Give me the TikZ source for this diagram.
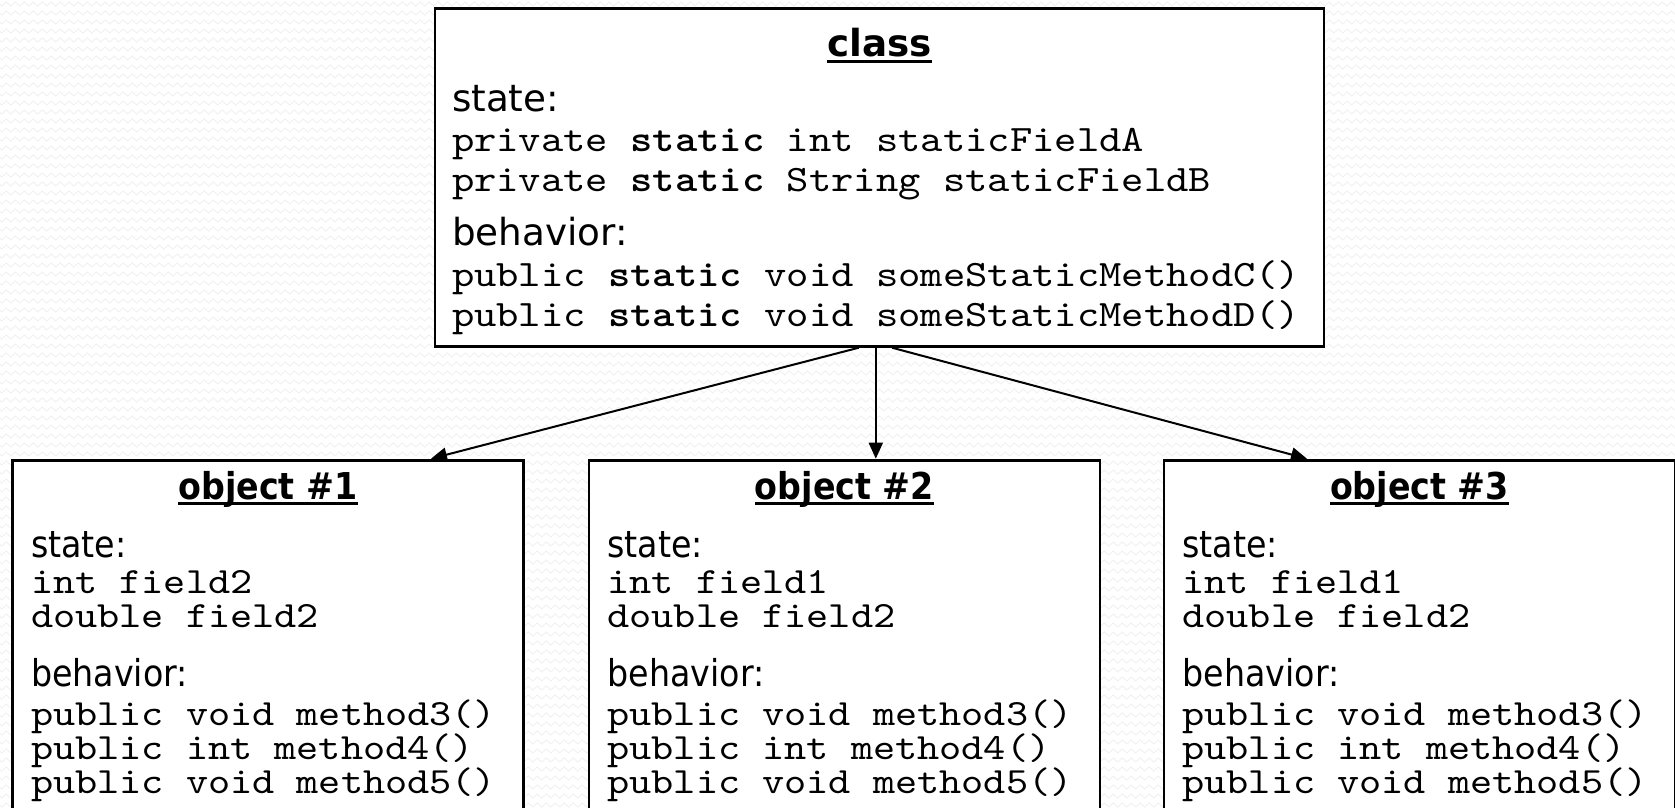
\documentclass[tikz,border=0pt]{standalone}
\usepackage{fontspec}
\setmainfont{DejaVu Sans}
\newfontfamily\condsans[FakeStretch=0.9]{DejaVu Sans}
\newfontfamily\cour[FakeStretch=1.14, BoldFont=lmmonolt10-bold.otf]{lmmono10-regular.otf}
\usetikzlibrary{arrows.meta,decorations.pathmorphing}
\tikzset{
  box/.style={draw=black, line width=2.5pt, fill=white, rectangle, outer sep=0pt, inner sep=0pt},
  txt/.style={anchor=base west, inner sep=0pt, outer sep=0pt},
  topsans/.style={txt, font=\fontsize{37.3}{40}\selectfont},
  topmono/.style={txt, font=\fontsize{37.3}{40}\selectfont\cour},
  botsans/.style={txt, font=\fontsize{37}{40}\selectfont\condsans},
  botmono/.style={txt, font=\fontsize{37}{40}\selectfont\cour},
  tophead/.style={anchor=base, inner sep=0pt, outer sep=0pt, font=\fontsize{37.3}{40}\selectfont\bfseries},
  bothead/.style={anchor=base, inner sep=0pt, outer sep=0pt, font=\fontsize{37}{40}\selectfont\condsans\bfseries},
  ul/.style={line width=3pt},
  arr/.style={line width=2pt, -{Triangle[length=16pt,width=14pt]}},
  bgpat/.style={draw=black!6, line width=0.8pt, decorate, decoration={zigzag, segment length=9pt, amplitude=2pt}}
}
\newcommand\objbox[4]{%
  % #1 name, #2 left x, #3 heading, #4 first field
  \node[box, anchor=north west, minimum width=511pt, minimum height=420pt] (#1) at (#2,460.7) {};
  \node[bothead] (#1h) at ([xshift=255.5pt]#1.north west |- 0,499.3) {#3};
  \draw[ul] ([yshift=-4pt]#1h.base west) -- ([yshift=-4pt]#1h.base east);
  \node[botsans] (#1s) at ([xshift=18.5pt]#1.north west |- 0,557.3) {state:};
  \node[botmono] (#1f1) at ([xshift=18.5pt]#1.north west |- 0,593.3) {int #4};
  \node[botmono] (#1f2) at ([xshift=18.5pt]#1.north west |- 0,627.3) {double field2};
  \node[botsans] (#1b) at ([xshift=18.5pt]#1.north west |- 0,686.7) {behavior:};
  \node[botmono] (#1m3) at ([xshift=18.5pt]#1.north west |- 0,725) {public void method3()};
  \node[botmono] (#1m4) at ([xshift=18.5pt]#1.north west |- 0,759.3) {public int method4()};
  \node[botmono] (#1m5) at ([xshift=18.5pt]#1.north west |- 0,793.3) {public void method5()};
}
\begin{document}
\begin{tikzpicture}[x=1pt, y=-1pt]
\useasboundingbox (0,0) rectangle (1675,808);
\begin{scope}
\clip (0,0) rectangle (1675,808);
\fill[white] (0,0) rectangle (1675,808);
\foreach \yy in {4,13,...,812} {
  \draw[bgpat] (-5,\yy) -- (1685,\yy);
}
% class box
\node[box, anchor=north west, minimum width=889pt, minimum height=338.4pt] (cls) at (435,8.3) {};
\node[tophead] (clsh) at (879.5,56.7) {class};
\draw[ul] ([yshift=-4.5pt]clsh.base west) -- ([yshift=-4.5pt]clsh.base east);
\node[topsans] (cs) at (452,111.7) {state:};
\node[topmono] (cf1) at (452,151.7) {private \textbf{static} int staticFieldA};
\node[topmono] (cf2) at (452,191.7) {private \textbf{static} String staticFieldB};
\node[topsans] (cb) at (452,245.7) {behavior:};
\node[topmono] (cm1) at (452,286) {public \textbf{static} void someStaticMethodC()};
\node[topmono] (cm2) at (452,326.7) {public \textbf{static} void someStaticMethodD()};
% object boxes
\objbox{oa}{12.5}{object \#1}{field2}
\objbox{ob}{589}{object \#2}{field1}
\objbox{oc}{1164}{object \#3}{field1}
% arrows
\draw[arr] ([xshift=-20.7pt, yshift=-1pt]cls.south) -- ([xshift=-92.5pt, yshift=2pt]oa.north east);
\draw[arr] ([xshift=-3.7pt, yshift=-1pt]cls.south) -- ([xshift=286.8pt, yshift=2pt]ob.north west);
\draw[arr] ([xshift=12.5pt, yshift=-1pt]cls.south) -- ([xshift=143pt, yshift=2pt]oc.north west);
\end{scope}
\end{tikzpicture}
\end{document}
